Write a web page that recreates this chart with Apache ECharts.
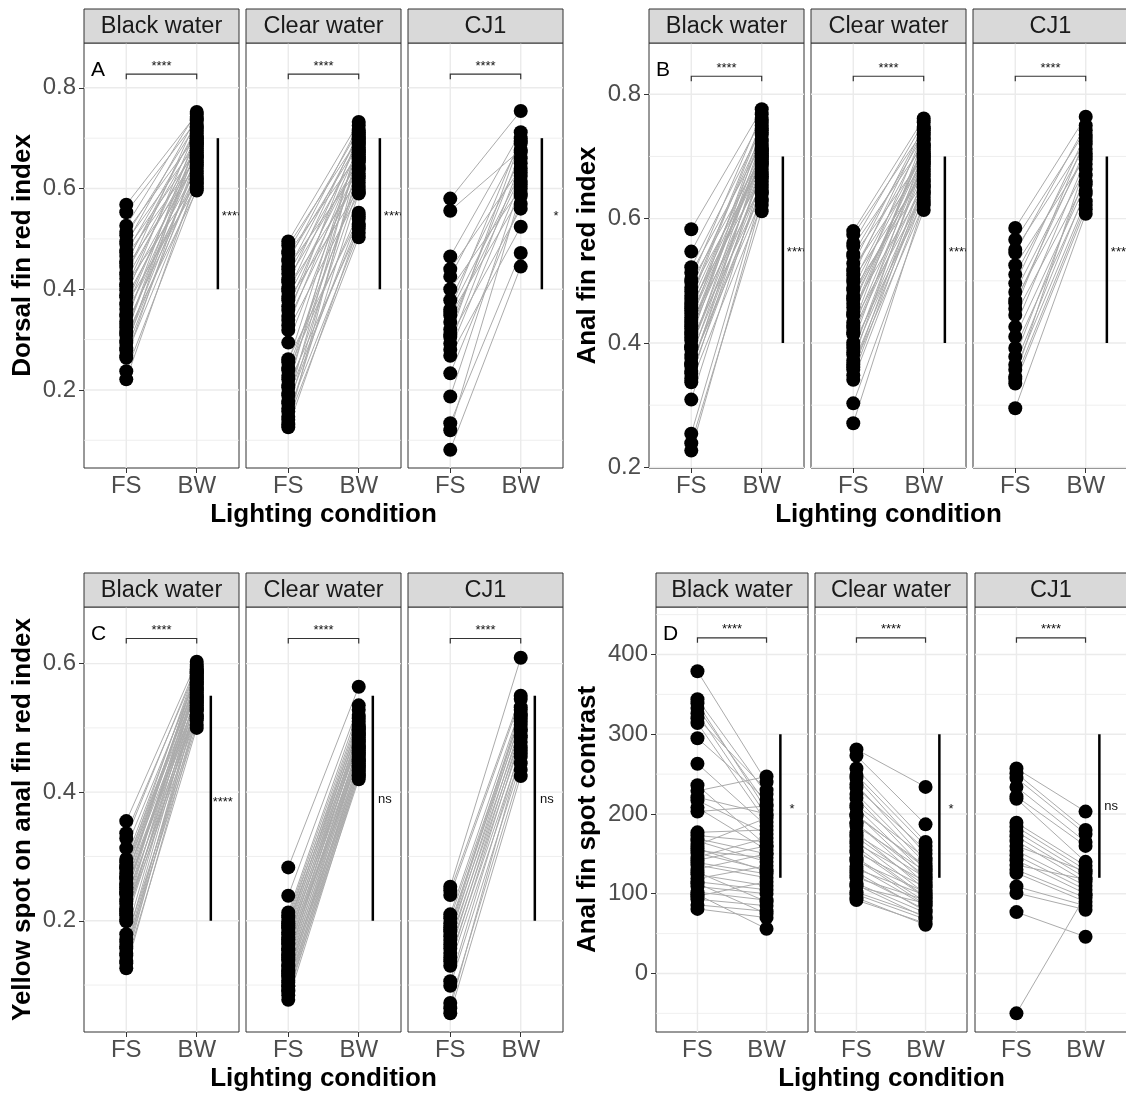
<!DOCTYPE html>
<html>
<head>
<meta charset="utf-8">
<script src="https://cdn.jsdelivr.net/npm/echarts@6/dist/echarts.min.js"></script>
<style>
  html, body { margin: 0; padding: 0; background: #ffffff; }
  #chart { width: 1126px; height: 1094px; }
</style>
</head>
<body>
<div id="chart"></div>
<script>
// ---- labels ----
const facetNames = ['Black water', 'Clear water', 'CJ1'];
const conditionLabels = ['FS', 'BW'];
const panelLetters = ['A', 'B', 'C', 'D'];
const yTitles = ['Dorsal fin red index', 'Anal fin red index', 'Yellow spot on anal fin red index', 'Anal fin spot contrast'];
const xTitle = 'Lighting condition';

// ---- axis ranges and ticks per panel ----
const yRanges = [[0.045, 0.889], [0.199, 0.8825], [0.027, 0.688], [-73.4, 459.6]];
const yMajorTicks = [[0.2, 0.4, 0.6, 0.8], [0.2, 0.4, 0.6, 0.8], [0.2, 0.4, 0.6], [0, 100, 200, 300, 400]];
const yMinorTicks = [[0.1, 0.3, 0.5, 0.7], [0.3, 0.5, 0.7], [0.1, 0.3, 0.5], [-50, 50, 150, 250, 350, 450]];

// ---- significance annotations ----
const bracketLevels = [0.827, 0.829, 0.639, 421];
const bracketLabel = '****';
const barRanges = [[0.4, 0.7], [0.4, 0.7], [0.2, 0.55], [120, 300]];
const barX = [2.3, 2.3, 2.2, 2.2];
const sideLabelX = [2.5, 2.5, 2.37, 2.37];
const sideLabelLevels = [0.55, 0.55, 0.388, 210];
const sideLabels = [['****', '****', '*'], ['****', '****', '****'], ['****', 'ns', 'ns'], ['*', '*', 'ns']];

// ---- A: dorsal fin red index ----
const dorsalBlackFS = [0.568, 0.553, 0.526, 0.514, 0.507, 0.495, 0.490, 0.478, 0.473, 0.466,
  0.455, 0.451, 0.444, 0.433, 0.429, 0.421, 0.410, 0.406, 0.398, 0.388,
  0.384, 0.373, 0.369, 0.361, 0.350, 0.347, 0.336, 0.331, 0.324, 0.313,
  0.309, 0.298, 0.293, 0.284, 0.279, 0.268, 0.264, 0.237, 0.221, 0.317];
const dorsalBlackBW = [0.748, 0.735, 0.752, 0.705, 0.728, 0.690, 0.742, 0.676, 0.715, 0.660,
  0.700, 0.722, 0.648, 0.684, 0.738, 0.668, 0.612, 0.696, 0.655, 0.720,
  0.640, 0.672, 0.604, 0.688, 0.630, 0.662, 0.710, 0.618, 0.645, 0.680,
  0.596, 0.652, 0.625, 0.700, 0.635, 0.610, 0.665, 0.600, 0.620, 0.692];
const dorsalClearFS = [0.495, 0.487, 0.476, 0.471, 0.460, 0.456, 0.445, 0.439, 0.431, 0.420,
  0.414, 0.402, 0.396, 0.385, 0.378, 0.366, 0.359, 0.347, 0.339, 0.328,
  0.319, 0.294, 0.261, 0.255, 0.244, 0.239, 0.228, 0.221, 0.210, 0.205,
  0.194, 0.189, 0.178, 0.173, 0.163, 0.157, 0.147, 0.141, 0.132, 0.126];
const dorsalClearBW = [0.732, 0.700, 0.716, 0.668, 0.690, 0.725, 0.640, 0.705, 0.675, 0.655,
  0.712, 0.620, 0.695, 0.660, 0.598, 0.682, 0.645, 0.708, 0.630, 0.672,
  0.590, 0.652, 0.540, 0.688, 0.612, 0.552, 0.664, 0.625, 0.520, 0.698,
  0.605, 0.530, 0.678, 0.545, 0.638, 0.512, 0.592, 0.503, 0.658, 0.525];
const dorsalCJ1FS = [0.580, 0.556, 0.465, 0.440, 0.425, 0.400, 0.378, 0.360, 0.348, 0.335, 0.320,
  0.305, 0.292, 0.280, 0.268, 0.310, 0.233, 0.187, 0.134, 0.120, 0.081, 0.355];
const dorsalCJ1BW = [0.754, 0.677, 0.712, 0.640, 0.690, 0.600, 0.660, 0.700, 0.585, 0.625, 0.672,
  0.560, 0.650, 0.615, 0.524, 0.695, 0.570, 0.608, 0.472, 0.590, 0.445, 0.632];

// ---- B: anal fin red index ----
const analBlackFS = [0.583, 0.547, 0.522, 0.513, 0.503, 0.498, 0.489, 0.483, 0.476, 0.466,
  0.461, 0.452, 0.447, 0.437, 0.432, 0.423, 0.418, 0.409, 0.404, 0.395,
  0.390, 0.381, 0.376, 0.367, 0.363, 0.355, 0.351, 0.343, 0.337, 0.309,
  0.254, 0.239, 0.227, 0.414, 0.441, 0.471, 0.393, 0.366, 0.427, 0.456];
const analBlackBW = [0.776, 0.760, 0.745, 0.720, 0.768, 0.700, 0.735, 0.688, 0.755, 0.712,
  0.668, 0.728, 0.695, 0.742, 0.655, 0.705, 0.680, 0.725, 0.642, 0.690,
  0.715, 0.660, 0.698, 0.632, 0.675, 0.708, 0.650, 0.685, 0.622, 0.665,
  0.640, 0.612, 0.628, 0.738, 0.692, 0.750, 0.672, 0.645, 0.710, 0.702];
const analClearFS = [0.580, 0.574, 0.561, 0.556, 0.543, 0.540, 0.528, 0.519, 0.516, 0.503,
  0.498, 0.489, 0.485, 0.472, 0.469, 0.457, 0.450, 0.446, 0.433, 0.428,
  0.417, 0.414, 0.401, 0.397, 0.385, 0.381, 0.372, 0.361, 0.357, 0.348,
  0.341, 0.303, 0.271, 0.444, 0.476, 0.509, 0.392, 0.424, 0.463, 0.366];
const analClearBW = [0.761, 0.742, 0.755, 0.720, 0.735, 0.700, 0.748, 0.690, 0.726, 0.672,
  0.712, 0.705, 0.660, 0.738, 0.684, 0.650, 0.718, 0.695, 0.640, 0.730,
  0.676, 0.662, 0.708, 0.630, 0.688, 0.645, 0.698, 0.622, 0.668, 0.655,
  0.635, 0.614, 0.625, 0.715, 0.680, 0.745, 0.652, 0.692, 0.702, 0.642];
const analCJ1FS = [0.585, 0.566, 0.550, 0.545, 0.525, 0.496, 0.469, 0.464, 0.445, 0.426, 0.392,
  0.378, 0.357, 0.346, 0.335, 0.295, 0.510, 0.482, 0.410, 0.365, 0.455, 0.342];
const analCJ1BW = [0.764, 0.742, 0.725, 0.750, 0.700, 0.735, 0.680, 0.712, 0.660, 0.695, 0.640,
  0.670, 0.628, 0.688, 0.615, 0.608, 0.720, 0.705, 0.655, 0.645, 0.730, 0.622];

// ---- C: yellow spot on anal fin red index ----
const yellowBlackFS = [0.355, 0.336, 0.328, 0.313, 0.296, 0.291, 0.285, 0.281, 0.274, 0.269,
  0.265, 0.258, 0.256, 0.249, 0.245, 0.241, 0.234, 0.230, 0.226, 0.219,
  0.217, 0.211, 0.208, 0.202, 0.199, 0.179, 0.171, 0.167, 0.160, 0.157,
  0.149, 0.146, 0.138, 0.134, 0.126, 0.267, 0.243, 0.214, 0.283, 0.252];
const yellowBlackBW = [0.603, 0.592, 0.598, 0.580, 0.588, 0.570, 0.595, 0.562, 0.585, 0.555,
  0.578, 0.548, 0.590, 0.540, 0.572, 0.565, 0.532, 0.582, 0.552, 0.526,
  0.575, 0.545, 0.518, 0.568, 0.538, 0.558, 0.512, 0.550, 0.528, 0.505,
  0.542, 0.520, 0.535, 0.500, 0.515, 0.586, 0.560, 0.530, 0.576, 0.547];
const yellowClearFS = [0.283, 0.239, 0.213, 0.208, 0.205, 0.199, 0.196, 0.190, 0.188, 0.182,
  0.179, 0.174, 0.170, 0.165, 0.163, 0.157, 0.154, 0.148, 0.146, 0.140,
  0.138, 0.131, 0.129, 0.123, 0.121, 0.115, 0.113, 0.107, 0.104, 0.099,
  0.098, 0.092, 0.090, 0.084, 0.077, 0.171, 0.143, 0.118, 0.193, 0.156];
const yellowClearBW = [0.564, 0.535, 0.528, 0.520, 0.505, 0.515, 0.498, 0.510, 0.490, 0.502,
  0.485, 0.495, 0.478, 0.492, 0.470, 0.482, 0.465, 0.488, 0.460, 0.475,
  0.455, 0.468, 0.448, 0.462, 0.440, 0.458, 0.435, 0.450, 0.430, 0.445,
  0.425, 0.438, 0.420, 0.433, 0.426, 0.480, 0.472, 0.442, 0.500, 0.452];
const yellowCJ1FS = [0.253, 0.247, 0.240, 0.210, 0.204, 0.196, 0.190, 0.183, 0.176, 0.170, 0.163,
  0.157, 0.150, 0.143, 0.137, 0.130, 0.106, 0.099, 0.072, 0.064, 0.056, 0.186];
const yellowCJ1BW = [0.609, 0.550, 0.545, 0.532, 0.520, 0.510, 0.528, 0.498, 0.515, 0.488, 0.505,
  0.478, 0.495, 0.465, 0.485, 0.455, 0.470, 0.445, 0.435, 0.460, 0.425, 0.522];

// ---- D: anal fin spot contrast ----
const contrastBlackFS = [379, 344, 339, 333, 326, 320, 314, 295, 263, 236,
  229, 221, 217, 208, 203, 177, 173, 169, 166, 161,
  154, 151, 146, 139, 136, 131, 124, 119, 115, 109,
  102, 97, 93, 86, 81, 157, 142, 127, 113, 99];
const contrastBlackBW = [240, 225, 205, 212, 198, 230, 190, 218, 185, 160,
  247, 200, 175, 155, 210, 180, 165, 150, 140, 195,
  145, 130, 170, 125, 120, 150, 110, 135, 105, 100,
  92, 115, 85, 78, 70, 128, 160, 90, 75, 56];
const contrastClearFS = [281, 273, 257, 249, 245, 237, 233, 225, 220, 211,
  208, 200, 197, 189, 185, 177, 174, 166, 163, 155,
  152, 145, 141, 134, 131, 123, 120, 113, 109, 102,
  99, 92, 188, 171, 159, 143, 127, 111, 199, 95];
const contrastClearBW = [234, 187, 165, 160, 150, 142, 155, 138, 130, 145,
  125, 118, 135, 112, 128, 105, 120, 100, 115, 95,
  108, 90, 102, 85, 98, 80, 92, 76, 88, 72,
  68, 63, 122, 110, 96, 86, 78, 70, 132, 61];
const contrastCJ1FS = [257, 251, 245, 234, 222, 219, 189, 184, 178, 172, 166,
  160, 154, 148, 142, 136, 130, 126, 109, 101, 77, -50];
const contrastCJ1BW = [203, 180, 175, 165, 160, 140, 135, 130, 125, 120, 115,
  128, 110, 105, 100, 118, 95, 90, 85, 80, 46, 98];

const panelData = [
  [[dorsalBlackFS, dorsalBlackBW], [dorsalClearFS, dorsalClearBW], [dorsalCJ1FS, dorsalCJ1BW]],
  [[analBlackFS, analBlackBW], [analClearFS, analClearBW], [analCJ1FS, analCJ1BW]],
  [[yellowBlackFS, yellowBlackBW], [yellowClearFS, yellowClearBW], [yellowCJ1FS, yellowCJ1BW]],
  [[contrastBlackFS, contrastBlackBW], [contrastClearFS, contrastClearBW], [contrastCJ1FS, contrastCJ1BW]]
];

// ---- page layout (pixels) ----
const panelLayout = [
  { left: [84, 246, 408], width: 155, top: 43, height: 425, titleX: 23 },
  { left: [649, 811, 973], width: 155, top: 43, height: 425, titleX: 588 },
  { left: [84, 246, 408], width: 155, top: 607, height: 425, titleX: 23 },
  { left: [656, 815, 975], width: 152, top: 607, height: 425, titleX: 588 }
];
const STRIP_H = 34;
const FONT = '"Liberation Sans", Arial, Helvetica, sans-serif';

const grids = [], xAxes = [], yAxes = [], series = [], graphics = [];

function textStyle(text, font, fill, align, vAlign) {
  return { text: text, font: font, fill: fill, align: align, textAlign: align,
           verticalAlign: vAlign, textVerticalAlign: vAlign };
}

panelLayout.forEach((L, p) => {
  const fmt = p < 3 ? (v => Number(v).toFixed(1)) : (v => String(Math.round(v)));
  for (let g = 0; g < 3; g++) {
    const idx = p * 3 + g;
    const [fs, bw] = panelData[p][g];

    grids.push({
      left: L.left[g], top: L.top, width: L.width, height: L.height,
      show: true, backgroundColor: '#ffffff', borderColor: '#333333', borderWidth: 1,
      containLabel: false, outerBoundsMode: 'none'
    });
    xAxes.push({
      type: 'value', gridIndex: idx, min: 0.4, max: 2.6,
      axisLine: { show: false }, splitLine: { show: false },
      axisTick: { show: true, customValues: [1, 2], length: 5, lineStyle: { color: '#333333', width: 1 } },
      axisLabel: {
        show: true, customValues: [1, 2], margin: 6,
        formatter: v => conditionLabels[Math.round(v) - 1],
        fontSize: 24, color: '#4d4d4d', fontFamily: FONT
      }
    });
    yAxes.push({
      type: 'value', gridIndex: idx, min: yRanges[p][0], max: yRanges[p][1],
      axisLine: { show: false }, splitLine: { show: false },
      axisTick: { show: g === 0, customValues: yMajorTicks[p], length: 5, lineStyle: { color: '#333333', width: 1 } },
      axisLabel: {
        show: g === 0, customValues: yMajorTicks[p], margin: 8,
        formatter: fmt, fontSize: 24, color: '#4d4d4d', fontFamily: FONT
      }
    });

    // background grid lines
    const gridLineData = [];
    yMajorTicks[p].forEach(v => gridLineData.push([0, v, 1]));
    yMinorTicks[p].forEach(v => gridLineData.push([0, v, 0]));
    [1, 2].forEach(v => gridLineData.push([1, v, 1]));
    series.push({
      type: 'custom', xAxisIndex: idx, yAxisIndex: idx, z: 1, silent: true, clip: true,
      animation: false, data: gridLineData,
      renderItem: (params, api) => {
        const cs = params.coordSys;
        const dir = api.value(0), v = api.value(1), major = api.value(2);
        const style = { stroke: '#ebebeb', lineWidth: major ? 1.4 : 0.8 };
        if (dir === 0) {
          const y = api.coord([1, v])[1];
          return { type: 'line', shape: { x1: cs.x, y1: y, x2: cs.x + cs.width, y2: y }, style };
        }
        const x = api.coord([v, yRanges[p][0]])[0];
        return { type: 'line', shape: { x1: x, y1: cs.y, x2: x, y2: cs.y + cs.height }, style };
      }
    });

    // paired lines between lighting conditions
    series.push({
      type: 'custom', xAxisIndex: idx, yAxisIndex: idx, z: 2, silent: true, clip: true,
      animation: false, data: fs.map((v, i) => [v, bw[i]]),
      renderItem: (params, api) => {
        const a = api.coord([1, api.value(0)]);
        const b = api.coord([2, api.value(1)]);
        return { type: 'line', shape: { x1: a[0], y1: a[1], x2: b[0], y2: b[1] },
                 style: { stroke: '#ababab', lineWidth: 1 } };
      }
    });

    // individual points
    series.push({
      type: 'scatter', xAxisIndex: idx, yAxisIndex: idx, z: 3, silent: true,
      animation: false, symbol: 'circle', symbolSize: 14,
      itemStyle: { color: '#000000', opacity: 1 },
      data: fs.map(v => [1, v]).concat(bw.map(v => [2, v]))
    });

    // comparison bracket, vertical bar and significance labels
    series.push({
      type: 'custom', xAxisIndex: idx, yAxisIndex: idx, z: 4, silent: true, clip: true,
      animation: false, data: [[0]],
      renderItem: (params, api) => {
        const b1 = api.coord([1, bracketLevels[p]]);
        const b2 = api.coord([2, bracketLevels[p]]);
        const v1 = api.coord([barX[p], barRanges[p][0]]);
        const v2 = api.coord([barX[p], barRanges[p][1]]);
        const s = api.coord([sideLabelX[p], sideLabelLevels[p]]);
        const lab = sideLabels[p][g];
        const starShift = lab.indexOf('*') >= 0 ? 3 : 0;
        return {
          type: 'group',
          children: [
            { type: 'polyline',
              shape: { points: [[b1[0], b1[1] + 5], [b1[0], b1[1]], [b2[0], b2[1]], [b2[0], b2[1] + 5]] },
              style: { stroke: '#333333', fill: 'none', lineWidth: 1.2 } },
            { type: 'text', x: (b1[0] + b2[0]) / 2, y: b1[1] - 8,
              style: textStyle(bracketLabel, '13px ' + FONT, '#111111', 'center', 'middle') },
            { type: 'line', shape: { x1: v1[0], y1: v1[1], x2: v2[0], y2: v2[1] },
              style: { stroke: '#000000', lineWidth: 2.5 } },
            { type: 'text', x: s[0], y: s[1] + starShift,
              style: textStyle(lab, '13px ' + FONT, '#111111', 'center', 'middle') }
          ]
        };
      }
    });

    // facet strip
    graphics.push({
      type: 'rect', z: 10, silent: true,
      shape: { x: L.left[g], y: L.top - STRIP_H, width: L.width, height: STRIP_H },
      style: { fill: '#d9d9d9', stroke: '#333333', lineWidth: 1 }
    });
    graphics.push({
      type: 'text', z: 11, silent: true,
      x: L.left[g] + L.width / 2, y: L.top - STRIP_H / 2 + 1,
      style: textStyle(facetNames[g], '23.5px ' + FONT, '#1a1a1a', 'center', 'middle')
    });
  }

  // panel letter
  graphics.push({
    type: 'text', z: 11, silent: true,
    x: L.left[0] + 7, y: L.top + 27,
    style: textStyle(panelLetters[p], '21px ' + FONT, '#000000', 'left', 'middle')
  });
  // y title
  graphics.push({
    type: 'text', z: 11, silent: true,
    x: L.titleX, y: L.top + L.height / 2, rotation: Math.PI / 2,
    style: textStyle(yTitles[p], 'bold 26px ' + FONT, '#000000', 'center', 'middle')
  });
  // x title
  const x0 = L.left[0], x1 = L.left[2] + L.width;
  graphics.push({
    type: 'text', z: 11, silent: true,
    x: (x0 + x1) / 2, y: L.top + L.height + 47,
    style: textStyle(xTitle, 'bold 26px ' + FONT, '#000000', 'center', 'middle')
  });
});

const chart = echarts.init(document.getElementById('chart'), null, { renderer: 'canvas' });
chart.setOption({
  animation: false,
  backgroundColor: '#ffffff',
  grid: grids,
  xAxis: xAxes,
  yAxis: yAxes,
  series: series,
  graphic: { elements: graphics }
});
</script>
</body>
</html>
